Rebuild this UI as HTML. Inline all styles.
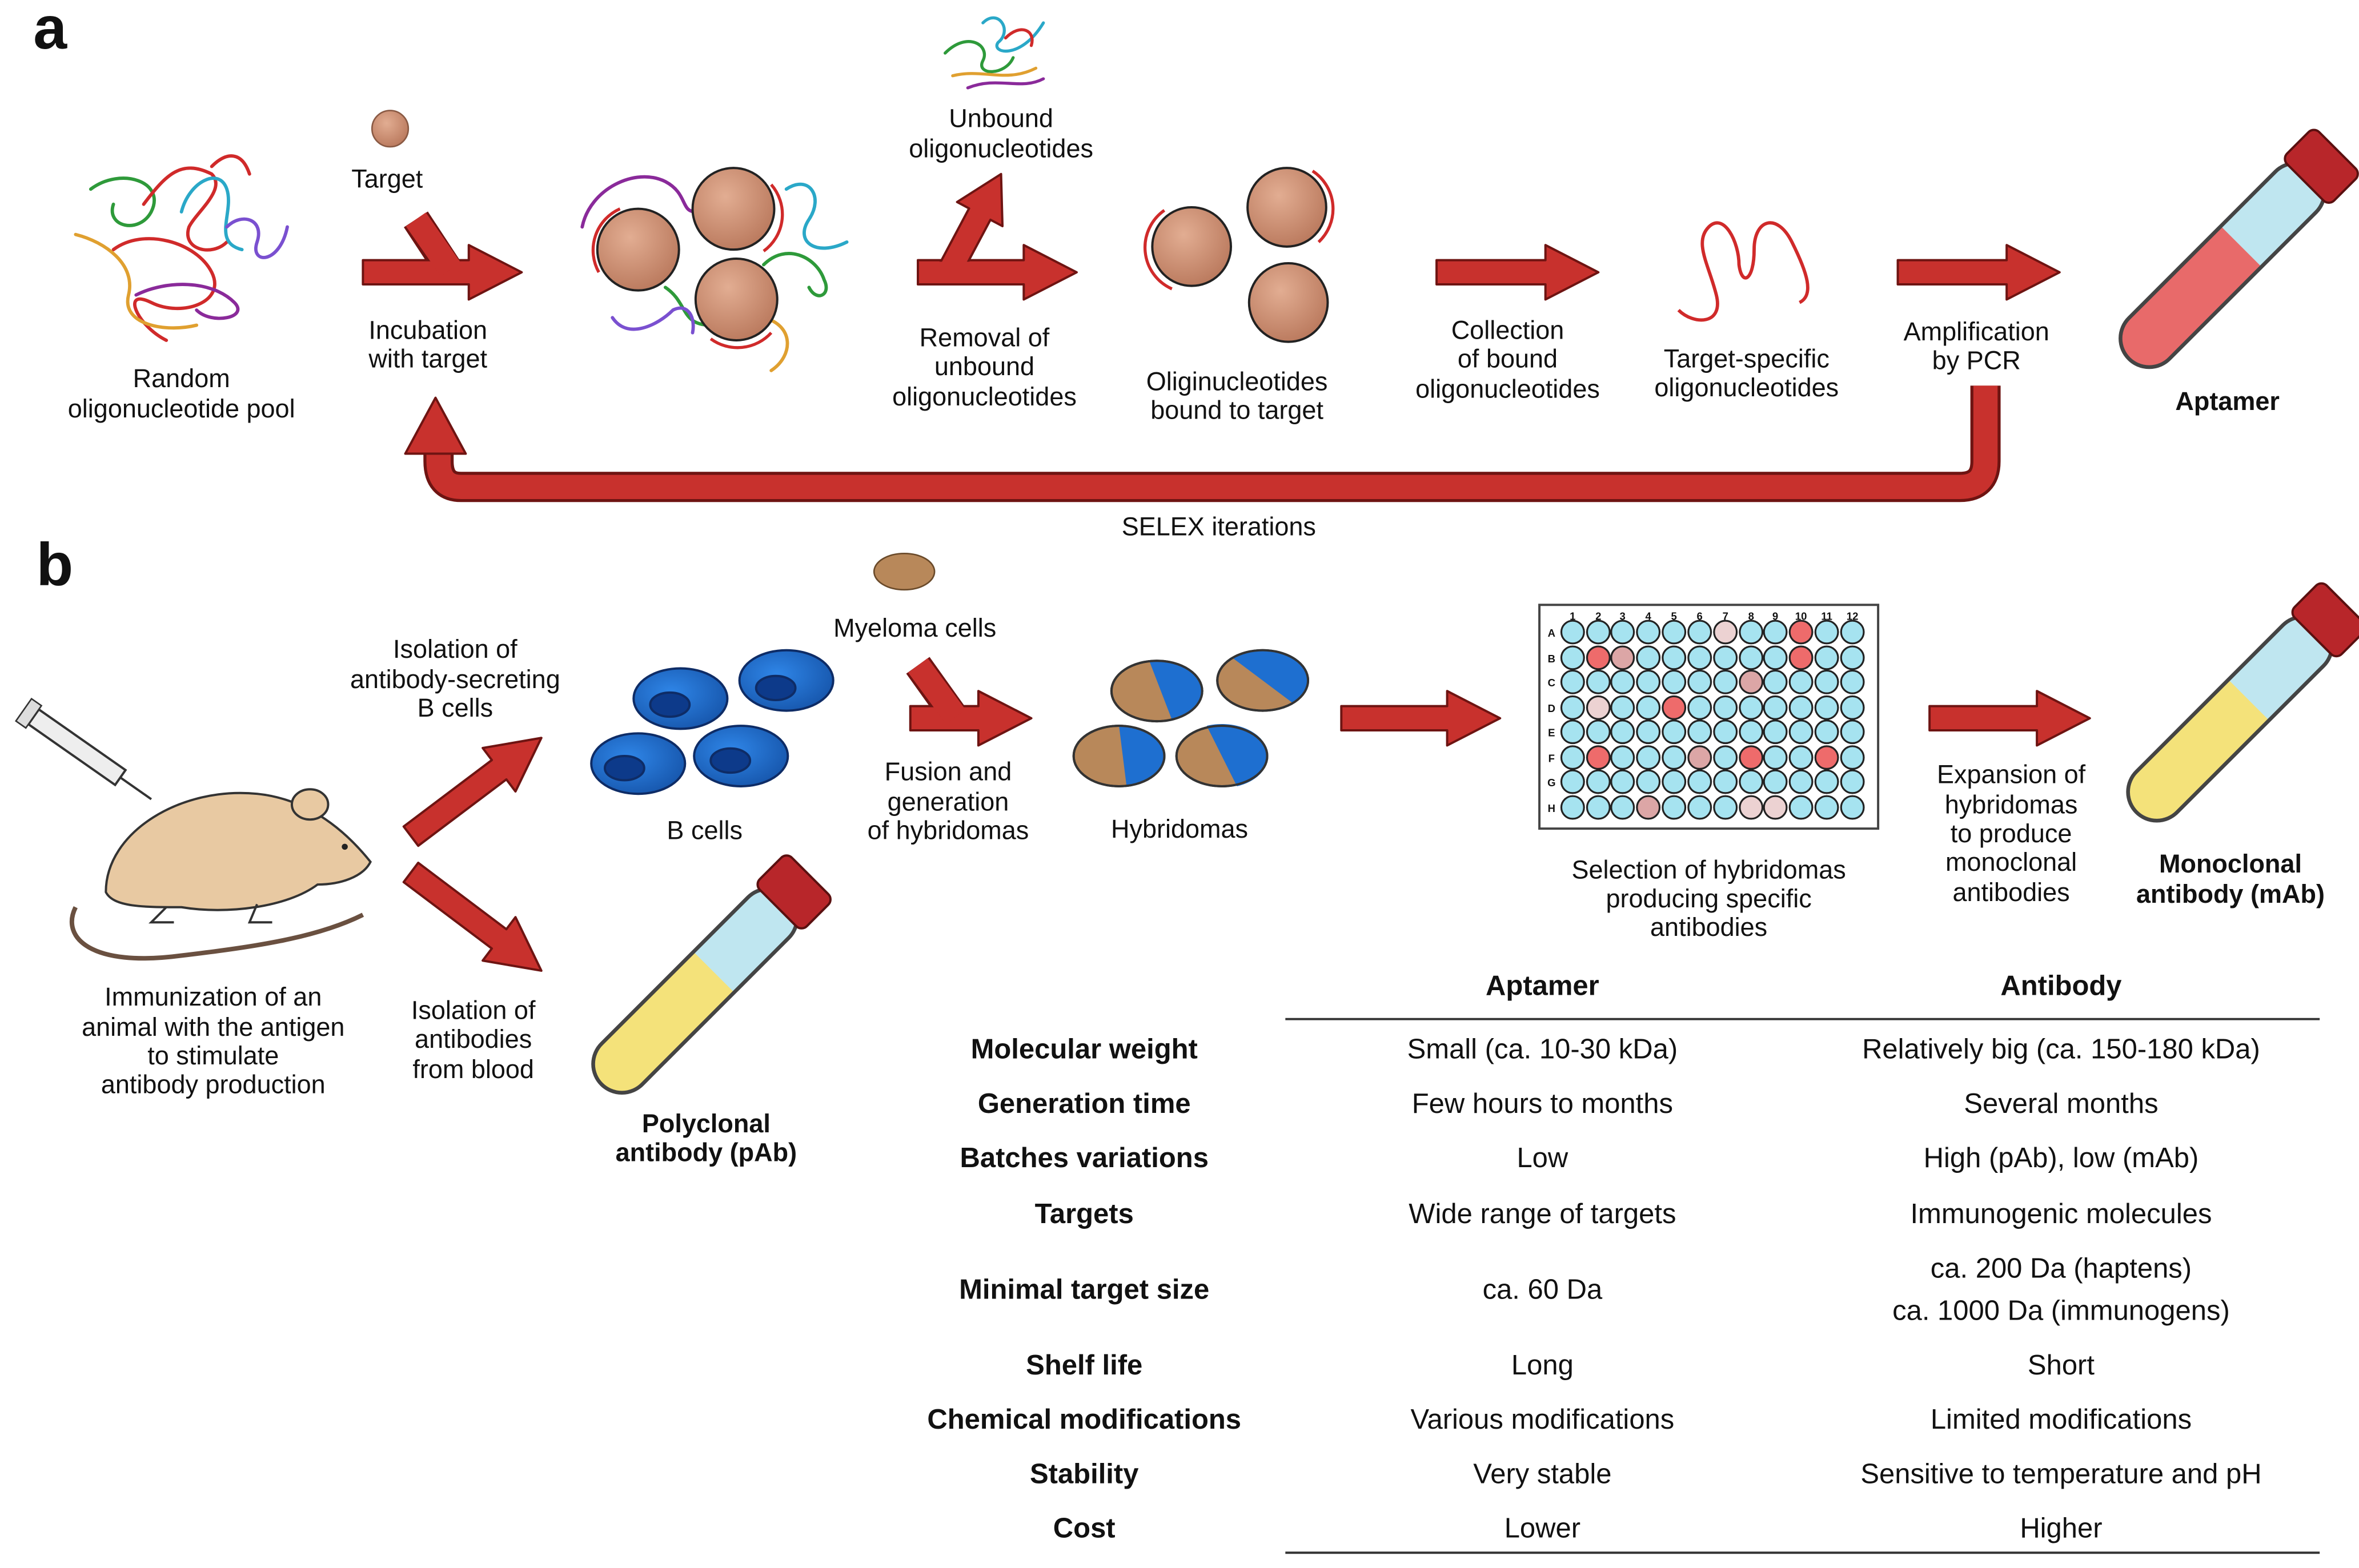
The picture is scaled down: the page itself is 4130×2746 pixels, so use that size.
<!DOCTYPE html>
<html><head><meta charset="utf-8"><style>
html,body{margin:0;padding:0;background:#fff}
svg{display:block}
text{font-family:"Liberation Sans",sans-serif;fill:#111}
</style></head><body>
<svg width="4130" height="2746" viewBox="0 0 1560 1037" xmlns="http://www.w3.org/2000/svg">
<defs>
<radialGradient id="bead" cx="0.4" cy="0.35" r="0.7"><stop offset="0" stop-color="#e2ad92"/><stop offset="1" stop-color="#b9785c"/></radialGradient>
<radialGradient id="bc" cx="0.4" cy="0.4" r="0.7"><stop offset="0" stop-color="#2f86e8"/><stop offset="1" stop-color="#1553a8"/></radialGradient>
</defs>
<style>
.a{fill:#c8312d;stroke:#6e1412;stroke-width:1.5;stroke-linejoin:round}
.t{font-size:17px;text-anchor:middle}
.tb{font-size:18.5px;text-anchor:middle}
.b{font-weight:bold}
</style>

<text x="22" y="32" font-size="40" font-weight="bold">a</text>
<text x="24" y="387" font-size="40" font-weight="bold">b</text>

<g fill="none" stroke-width="2.2" stroke-linecap="round">
<path d="M60,125 C80,110 110,120 100,140 C92,155 70,150 75,135" stroke="#2e9a3a"/>
<path d="M95,135 C110,115 120,105 140,115 C150,125 130,140 125,150 C120,165 140,170 150,160" stroke="#d02a2a"/>
<path d="M120,140 C125,120 145,110 150,125 C155,140 140,160 160,165" stroke="#2aa8c8"/>
<path d="M75,165 C95,150 130,160 140,180 C150,200 120,210 100,200 C80,190 90,215 110,225" stroke="#d02a2a"/>
<path d="M50,155 C70,160 90,175 85,195 C80,215 110,220 130,215" stroke="#e0a030"/>
<path d="M90,195 C110,185 140,185 155,200 C165,210 140,215 130,205" stroke="#8a2a9a"/>
<path d="M150,150 C160,140 175,145 170,160 C165,175 185,175 190,150" stroke="#7a50d0"/>
<path d="M140,110 C150,100 160,100 165,115" stroke="#d02a2a"/>
</g>
<text class="t" x="120" y="256">Random</text>
<text class="t" x="120" y="276">oligonucleotide pool</text>

<circle cx="258" cy="85" r="12" fill="url(#bead)" stroke="#8a5a44" stroke-width="1"/>
<text class="t" x="256" y="124">Target</text>
<line x1="275" y1="145" x2="298" y2="180" stroke="#6e1412" stroke-width="19"/>
<polygon class="a" transform="translate(345,180)" points="0,0 -35,-18 -35,-8 -105,-8 -105,8 -35,8 -35,18"/>
<line x1="275" y1="145" x2="298" y2="178" stroke="#c8312d" stroke-width="16"/>
<text class="t" x="283" y="224">Incubation</text>
<text class="t" x="283" y="243">with target</text>

<g fill="none" stroke-width="2.2" stroke-linecap="round">
<path d="M385,150 C390,125 420,110 440,120 C455,128 450,140 460,140" stroke="#8a2a9a"/>
<path d="M520,125 C535,115 545,130 535,145 C525,160 540,170 560,160" stroke="#2aa8c8"/>
<path d="M440,190 C455,200 450,215 470,215" stroke="#2e9a3a"/>
<path d="M505,175 C520,160 540,170 545,185 C550,195 540,200 535,190" stroke="#2e9a3a"/>
<path d="M405,210 C415,225 435,215 445,205 C455,200 460,210 458,220" stroke="#7a50d0"/>
<path d="M505,210 C525,215 525,235 510,245" stroke="#e0a030"/>
</g>
<circle cx="422" cy="165" r="27" fill="url(#bead)" stroke="#222" stroke-width="1.5"/>
<circle cx="485" cy="138" r="27" fill="url(#bead)" stroke="#222" stroke-width="1.5"/>
<circle cx="487" cy="198" r="27" fill="url(#bead)" stroke="#222" stroke-width="1.5"/>
<g fill="none" stroke="#d02a2a" stroke-width="2"><path d="M396,180 A30,30 0 0 1 410,138"/><path d="M510,122 A30,30 0 0 1 505,166"/><path d="M470,224 A30,30 0 0 0 510,220"/></g>

<g fill="none" stroke-width="2" stroke-linecap="round">
<path d="M625,35 C640,20 655,30 650,40 C645,50 665,50 670,38" stroke="#2e9a3a"/>
<path d="M650,15 C660,5 670,20 660,28 C655,35 675,40 690,15" stroke="#2aa8c8"/>
<path d="M630,50 C650,45 665,55 685,45" stroke="#e0a030"/>
<path d="M640,58 C660,50 675,60 690,52" stroke="#8a2a9a"/>
<path d="M665,25 C675,15 685,20 682,30" stroke="#d02a2a"/>
</g>
<text class="t" x="662" y="84">Unbound</text>
<text class="t" x="662" y="104">oligonucleotides</text>
<polygon class="a" transform="translate(712,180)" points="0,0 -35,-18 -35,-8 -105,-8 -105,8 -35,8 -35,18"/>
<polygon class="a" transform="translate(662,115) rotate(-62)" points="0,0 -30,-17 -30,-8 -75,-8 -75,8 -30,8 -30,17"/>
<rect x="608" y="173" width="40" height="14" fill="#c8312d"/>
<text class="t" x="651" y="229">Removal of</text>
<text class="t" x="651" y="248">unbound</text>
<text class="t" x="651" y="268">oligonucleotides</text>

<circle cx="788" cy="163" r="26" fill="url(#bead)" stroke="#222" stroke-width="1.5"/>
<circle cx="851" cy="137" r="26" fill="url(#bead)" stroke="#222" stroke-width="1.5"/>
<circle cx="852" cy="200" r="26" fill="url(#bead)" stroke="#222" stroke-width="1.5"/>
<g fill="none" stroke="#d02a2a" stroke-width="2"><path d="M775,191 A30,30 0 0 1 770,139"/><path d="M868,113 A30,30 0 0 1 872,160"/></g>
<text class="t" x="818" y="258">Oliginucleotides</text>
<text class="t" x="818" y="277">bound to target</text>

<polygon class="a" transform="translate(1057,180)" points="0,0 -35,-18 -35,-8 -107,-8 -107,8 -35,8 -35,18"/>
<text class="t" x="997" y="224">Collection</text>
<text class="t" x="997" y="243">of bound</text>
<text class="t" x="997" y="263">oligonucleotides</text>

<path d="M1110,205 C1120,215 1140,215 1135,195 C1130,175 1120,160 1130,150 C1140,140 1150,160 1150,175 C1152,190 1160,185 1160,165 C1160,145 1175,140 1185,160 C1195,180 1200,195 1190,200" fill="none" stroke="#d02a2a" stroke-width="2.2"/>
<text class="t" x="1155" y="243">Target-specific</text>
<text class="t" x="1155" y="262">oligonucleotides</text>

<polygon class="a" transform="translate(1362,180)" points="0,0 -35,-18 -35,-8 -107,-8 -107,8 -35,8 -35,18"/>
<text class="t" x="1307" y="225">Amplification</text>
<text class="t" x="1307" y="244">by PCR</text>

<g transform="translate(1475,170) rotate(-45)">
<rect x="-95" y="-19" width="175" height="38" rx="19" fill="#bfe6f0"/>
<path d="M-95,0 A19,19 0 0 1 -76,-19 H10 V19 H-76 A19,19 0 0 1 -95,0Z" fill="#e86a6a"/>
<rect x="-95" y="-19" width="175" height="38" rx="19" fill="none" stroke="#444" stroke-width="2.5"/>
<rect x="70" y="-22" width="30" height="44" rx="5" fill="#b8262a" stroke="#5a1010" stroke-width="1.5"/>
</g>
<text class="t b" x="1473" y="271">Aptamer</text>

<path d="M1313,255 V305 Q1313,322 1296,322 H305 Q290,322 290,305 V295" fill="none" stroke="#6e1412" stroke-width="20"/>
<path d="M1313,255 V305 Q1313,322 1296,322 H305 Q290,322 290,305 V294" fill="none" stroke="#c8312d" stroke-width="16"/>
<polygon class="a" points="288,263 268,300 308,300"/>
<text class="t" x="806" y="354">SELEX iterations</text>

<g stroke="#333" stroke-width="1.5">
<path d="M50,600 C40,620 60,640 120,632 C170,626 210,620 240,605" fill="none" stroke="#6a5040" stroke-width="3"/>
<path d="M70,590 C70,550 120,520 170,525 C200,528 225,545 245,570 C240,580 225,585 210,585 C190,600 150,605 120,600 C95,600 75,600 70,590Z" fill="#e8c9a2"/>
<ellipse cx="205" cy="532" rx="12" ry="10" fill="#e8c9a2"/>
<path d="M110,600 l-10,10 h15 M170,598 l-5,12 h15" fill="none"/>
</g>
<circle cx="228" cy="560" r="2" fill="#222"/>
<g transform="translate(55,497) rotate(35)"><rect x="-40" y="-6" width="70" height="12" fill="#eee" stroke="#333" stroke-width="1.5"/><line x1="30" y1="0" x2="55" y2="0" stroke="#333" stroke-width="1.5"/><rect x="-48" y="-9" width="8" height="18" fill="#ddd" stroke="#333"/></g>
<text class="t" x="141" y="665">Immunization of an</text>
<text class="t" x="141" y="685">animal with the antigen</text>
<text class="t" x="141" y="704">to stimulate</text>
<text class="t" x="141" y="723">antibody production</text>

<polygon class="a" transform="translate(358,488) rotate(-37)" points="0,0 -35,-18 -35,-8 -108,-8 -108,8 -35,8 -35,18"/>
<polygon class="a" transform="translate(358,642) rotate(37)" points="0,0 -35,-18 -35,-8 -108,-8 -108,8 -35,8 -35,18"/>
<text class="t" x="301" y="435">Isolation of</text>
<text class="t" x="301" y="455">antibody-secreting</text>
<text class="t" x="301" y="474">B cells</text>
<text class="t" x="313" y="674">Isolation of</text>
<text class="t" x="313" y="693">antibodies</text>
<text class="t" x="313" y="713">from blood</text>

<g stroke="#0e2c66" stroke-width="1.5">
<ellipse cx="450" cy="462" rx="31" ry="20" fill="url(#bc)"/><ellipse cx="443" cy="466" rx="13" ry="8" fill="#0d3a8a"/>
<ellipse cx="520" cy="450" rx="31" ry="20" fill="url(#bc)"/><ellipse cx="513" cy="455" rx="13" ry="8" fill="#0d3a8a"/>
<ellipse cx="422" cy="505" rx="31" ry="20" fill="url(#bc)"/><ellipse cx="413" cy="508" rx="13" ry="8" fill="#0d3a8a"/>
<ellipse cx="490" cy="500" rx="31" ry="20" fill="url(#bc)"/><ellipse cx="483" cy="503" rx="13" ry="8" fill="#0d3a8a"/>
</g>
<text class="t" x="466" y="555">B cells</text>

<ellipse cx="598" cy="378" rx="20" ry="12" fill="#b8885a" stroke="#6a4a2a"/>
<text class="t" x="605" y="421">Myeloma cells</text>
<line x1="607" y1="440" x2="632" y2="475" stroke="#6e1412" stroke-width="19"/>
<polygon class="a" transform="translate(682,475)" points="0,0 -35,-18 -35,-8 -80,-8 -80,8 -35,8 -35,18"/>
<line x1="607" y1="440" x2="632" y2="474" stroke="#c8312d" stroke-width="16"/>
<text class="t" x="627" y="516">Fusion and</text>
<text class="t" x="627" y="536">generation</text>
<text class="t" x="627" y="555">of hybridomas</text>

<g stroke="#333" stroke-width="1.5">
<g transform="translate(765,457)"><ellipse rx="30" ry="20" fill="#b8885a"/><path d="M-5,-20 A30,20 0 0 1 30,0 A30,20 0 0 1 10,19 Z" fill="#1e6fd0" stroke="none"/><ellipse rx="30" ry="20" fill="none"/></g>
<g transform="translate(835,450)"><ellipse rx="30" ry="20" fill="#b8885a"/><path d="M-20,-15 A30,20 0 0 1 30,0 A30,20 0 0 1 20,15 Z" fill="#1e6fd0" stroke="none"/><ellipse rx="30" ry="20" fill="none"/></g>
<g transform="translate(740,500)"><ellipse rx="30" ry="20" fill="#b8885a"/><path d="M0,-20 A30,20 0 0 1 30,0 A30,20 0 0 1 5,20 Z" fill="#1e6fd0" stroke="none"/><ellipse rx="30" ry="20" fill="none"/></g>
<g transform="translate(808,500)"><ellipse rx="30" ry="20" fill="#b8885a"/><path d="M-10,-20 A30,20 0 0 1 30,0 A30,20 0 0 1 10,20 Z" fill="#1e6fd0" stroke="none"/><ellipse rx="30" ry="20" fill="none"/></g>
</g>
<text class="t" x="780" y="554">Hybridomas</text>

<polygon class="a" transform="translate(992,475)" points="0,0 -35,-18 -35,-8 -105,-8 -105,8 -35,8 -35,18"/>

<rect x="1018" y="400" width="224" height="148" fill="#fff" stroke="#444" stroke-width="1.5"/>
<g font-size="7" text-anchor="middle" font-weight="bold">
<text x="1040" y="410">1</text><text x="1057" y="410">2</text><text x="1073" y="410">3</text><text x="1090" y="410">4</text><text x="1107" y="410">5</text><text x="1124" y="410">6</text><text x="1141" y="410">7</text><text x="1158" y="410">8</text><text x="1174" y="410">9</text><text x="1191" y="410">10</text><text x="1208" y="410">11</text><text x="1225" y="410">12</text>
<text x="1026" y="421">A</text><text x="1026" y="438">B</text><text x="1026" y="454">C</text><text x="1026" y="471">D</text><text x="1026" y="487">E</text><text x="1026" y="504">F</text><text x="1026" y="520">G</text><text x="1026" y="537">H</text>
</g>
<text class="t" x="1130" y="581">Selection of hybridomas</text>
<text class="t" x="1130" y="600">producing specific</text>
<text class="t" x="1130" y="619">antibodies</text>

<polygon class="a" transform="translate(1382,475)" points="0,0 -35,-18 -35,-8 -106,-8 -106,8 -35,8 -35,18"/>
<text class="t" x="1330" y="518">Expansion of</text>
<text class="t" x="1330" y="538">hybridomas</text>
<text class="t" x="1330" y="557">to produce</text>
<text class="t" x="1330" y="576">monoclonal</text>
<text class="t" x="1330" y="596">antibodies</text>

<g transform="translate(1480,470) rotate(-45)">
<rect x="-95" y="-19" width="175" height="38" rx="19" fill="#bfe6f0"/>
<path d="M-95,0 A19,19 0 0 1 -76,-19 H10 V19 H-76 A19,19 0 0 1 -95,0Z" fill="#f4e27a"/>
<rect x="-95" y="-19" width="175" height="38" rx="19" fill="none" stroke="#444" stroke-width="2.5"/>
<rect x="70" y="-22" width="30" height="44" rx="5" fill="#b8262a" stroke="#5a1010" stroke-width="1.5"/>
</g>
<text class="t b" x="1475" y="577">Monoclonal</text>
<text class="t b" x="1475" y="597">antibody (mAb)</text>

<g transform="translate(465,650) rotate(-45)">
<rect x="-95" y="-19" width="175" height="38" rx="19" fill="#bfe6f0"/>
<path d="M-95,0 A19,19 0 0 1 -76,-19 H10 V19 H-76 A19,19 0 0 1 -95,0Z" fill="#f4e27a"/>
<rect x="-95" y="-19" width="175" height="38" rx="19" fill="none" stroke="#444" stroke-width="2.5"/>
<rect x="70" y="-22" width="30" height="44" rx="5" fill="#b8262a" stroke="#5a1010" stroke-width="1.5"/>
</g>
<text class="t b" x="467" y="749">Polyclonal</text>
<text class="t b" x="467" y="768">antibody (pAb)</text>

<text class="tb b" x="1020" y="658">Aptamer</text>
<text class="tb b" x="1363" y="658">Antibody</text>
<line x1="850" y1="674" x2="1534" y2="674" stroke="#333" stroke-width="1.5"/>
<line x1="850" y1="1027" x2="1534" y2="1027" stroke="#333" stroke-width="1.5"/>
<text class="tb b" x="717" y="700">Molecular weight</text><text class="tb" x="1020" y="700">Small (ca. 10-30 kDa)</text><text class="tb" x="1363" y="700">Relatively big (ca. 150-180 kDa)</text>
<text class="tb b" x="717" y="736">Generation time</text><text class="tb" x="1020" y="736">Few hours to months</text><text class="tb" x="1363" y="736">Several months</text>
<text class="tb b" x="717" y="772">Batches variations</text><text class="tb" x="1020" y="772">Low</text><text class="tb" x="1363" y="772">High (pAb), low (mAb)</text>
<text class="tb b" x="717" y="809">Targets</text><text class="tb" x="1020" y="809">Wide range of targets</text><text class="tb" x="1363" y="809">Immunogenic molecules</text>
<text class="tb b" x="717" y="859">Minimal target size</text><text class="tb" x="1020" y="859">ca. 60 Da</text><text class="tb" x="1363" y="845">ca. 200 Da (haptens)</text><text class="tb" x="1363" y="873">ca. 1000 Da (immunogens)</text>
<text class="tb b" x="717" y="909">Shelf life</text><text class="tb" x="1020" y="909">Long</text><text class="tb" x="1363" y="909">Short</text>
<text class="tb b" x="717" y="945">Chemical modifications</text><text class="tb" x="1020" y="945">Various modifications</text><text class="tb" x="1363" y="945">Limited modifications</text>
<text class="tb b" x="717" y="981">Stability</text><text class="tb" x="1020" y="981">Very stable</text><text class="tb" x="1363" y="981">Sensitive to temperature and pH</text>
<text class="tb b" x="717" y="1017">Cost</text><text class="tb" x="1020" y="1017">Lower</text><text class="tb" x="1363" y="1017">Higher</text>

<g stroke="#222" stroke-width="1.2" fill="#a6e3f0">
<g transform="translate(0,418)"><circle cx="1040" r="7.5"/><circle cx="1057" r="7.5"/><circle cx="1073" r="7.5"/><circle cx="1090" r="7.5"/><circle cx="1107" r="7.5"/><circle cx="1124" r="7.5"/><circle cx="1141" r="7.5" fill="#ecd2d2"/><circle cx="1158" r="7.5"/><circle cx="1174" r="7.5"/><circle cx="1191" r="7.5" fill="#ee6b6b"/><circle cx="1208" r="7.5"/><circle cx="1225" r="7.5"/></g>
<g transform="translate(0,435)"><circle cx="1040" r="7.5"/><circle cx="1057" r="7.5" fill="#ee6b6b"/><circle cx="1073" r="7.5" fill="#dca6a6"/><circle cx="1090" r="7.5"/><circle cx="1107" r="7.5"/><circle cx="1124" r="7.5"/><circle cx="1141" r="7.5"/><circle cx="1158" r="7.5"/><circle cx="1174" r="7.5"/><circle cx="1191" r="7.5" fill="#ee6b6b"/><circle cx="1208" r="7.5"/><circle cx="1225" r="7.5"/></g>
<g transform="translate(0,451)"><circle cx="1040" r="7.5"/><circle cx="1057" r="7.5"/><circle cx="1073" r="7.5"/><circle cx="1090" r="7.5"/><circle cx="1107" r="7.5"/><circle cx="1124" r="7.5"/><circle cx="1141" r="7.5"/><circle cx="1158" r="7.5" fill="#dca6a6"/><circle cx="1174" r="7.5"/><circle cx="1191" r="7.5"/><circle cx="1208" r="7.5"/><circle cx="1225" r="7.5"/></g>
<g transform="translate(0,468)"><circle cx="1040" r="7.5"/><circle cx="1057" r="7.5" fill="#ecd2d2"/><circle cx="1073" r="7.5"/><circle cx="1090" r="7.5"/><circle cx="1107" r="7.5" fill="#ee6b6b"/><circle cx="1124" r="7.5"/><circle cx="1141" r="7.5"/><circle cx="1158" r="7.5"/><circle cx="1174" r="7.5"/><circle cx="1191" r="7.5"/><circle cx="1208" r="7.5"/><circle cx="1225" r="7.5"/></g>
<g transform="translate(0,484)"><circle cx="1040" r="7.5"/><circle cx="1057" r="7.5"/><circle cx="1073" r="7.5"/><circle cx="1090" r="7.5"/><circle cx="1107" r="7.5"/><circle cx="1124" r="7.5"/><circle cx="1141" r="7.5"/><circle cx="1158" r="7.5"/><circle cx="1174" r="7.5"/><circle cx="1191" r="7.5"/><circle cx="1208" r="7.5"/><circle cx="1225" r="7.5"/></g>
<g transform="translate(0,501)"><circle cx="1040" r="7.5"/><circle cx="1057" r="7.5" fill="#ee6b6b"/><circle cx="1073" r="7.5"/><circle cx="1090" r="7.5"/><circle cx="1107" r="7.5"/><circle cx="1124" r="7.5" fill="#dca6a6"/><circle cx="1141" r="7.5"/><circle cx="1158" r="7.5" fill="#ee6b6b"/><circle cx="1174" r="7.5"/><circle cx="1191" r="7.5"/><circle cx="1208" r="7.5" fill="#ee6b6b"/><circle cx="1225" r="7.5"/></g>
<g transform="translate(0,517)"><circle cx="1040" r="7.5"/><circle cx="1057" r="7.5"/><circle cx="1073" r="7.5"/><circle cx="1090" r="7.5"/><circle cx="1107" r="7.5"/><circle cx="1124" r="7.5"/><circle cx="1141" r="7.5"/><circle cx="1158" r="7.5"/><circle cx="1174" r="7.5"/><circle cx="1191" r="7.5"/><circle cx="1208" r="7.5"/><circle cx="1225" r="7.5"/></g>
<g transform="translate(0,534)"><circle cx="1040" r="7.5"/><circle cx="1057" r="7.5"/><circle cx="1073" r="7.5"/><circle cx="1090" r="7.5" fill="#dca6a6"/><circle cx="1107" r="7.5"/><circle cx="1124" r="7.5"/><circle cx="1141" r="7.5"/><circle cx="1158" r="7.5" fill="#ecd2d2"/><circle cx="1174" r="7.5" fill="#ecd2d2"/><circle cx="1191" r="7.5"/><circle cx="1208" r="7.5"/><circle cx="1225" r="7.5"/></g>
</g>
</svg>
</body></html>
